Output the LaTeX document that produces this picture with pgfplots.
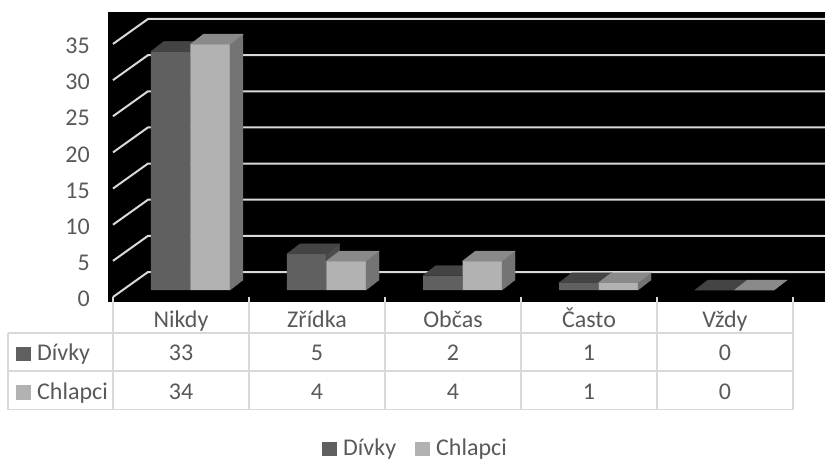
\documentclass[border=0pt]{standalone}
\usepackage{pgfplots}
\usepackage{pgfplotstable}
\pgfplotsset{compat=1.18}
\usepackage{fontspec}
\setmainfont{Carlito}

\definecolor{txt}{HTML}{595959}
\definecolor{gridc}{HTML}{D9D9D9}
\definecolor{dvfront}{HTML}{606060}
\definecolor{dvtop}{HTML}{444444}
\definecolor{dvside}{HTML}{4C4C4C}
\definecolor{chfront}{HTML}{B2B2B2}
\definecolor{chtop}{HTML}{8A8A8A}
\definecolor{chside}{HTML}{747474}

% answers: how often, girls (dv) and boys (ch)
\pgfplotstableread{
x cat dv ch
0 Nikdy 33 34
1 Zřídka 5 4
2 Občas 2 4
3 Často 1 1
4 Vždy 0 0
}\answers

% bar geometry in bp: half width, depth offset, y unit
\def\hw{19.75}
\def\dx{13}
\def\dy{10}
\def\yu{7.23}

\pgfplotsset{
  % top and right side of a 3D bar, drawn at the data point (bar top)
  barfaces/.style n args={4}{%
    forget plot, scatter, only marks, mark=*, mark size=0pt,
    mark options={draw=none,fill=none},
    visualization depends on={\thisrow{#2} \as \bv},
    scatter/@pre marker code/.code={%
      \pgfmathsetmacro\h{\bv*\yu}%
      \pgfmathsetmacro\xl{#1-\hw}%
      \pgfmathsetmacro\xr{#1+\hw}%
      \fill[#4] (\xr bp,0bp) -- (\xr bp,-\h bp) -- (\xr bp+\dx bp,-\h bp+\dy bp) -- (\xr bp+\dx bp,\dy bp) -- cycle;
      \fill[#3] (\xl bp,0bp) -- (\xr bp,0bp) -- (\xr bp+\dx bp,\dy bp) -- (\xl bp+\dx bp,\dy bp) -- cycle;
    },
    scatter/@post marker code/.code={},
  },
  % square legend key with a small gap before the text
  sqlegend/.style={legend image code/.code={%
    \path (-2bp,0bp) (19bp,0bp);
    \fill[#1] (0bp,-7bp) rectangle (15bp,7bp);}},
}

\begin{document}
\fontsize{24bp}{29bp}\selectfont
\begin{tikzpicture}
\useasboundingbox (0,0) rectangle (825bp,-461bp);
\begin{axis}[
  at={(108bp,-302bp)}, anchor=south west,
  x=136bp, y=7.23bp,
  xmin=-0.6066, xmax=4.6654, ymin=-1.66, ymax=38.45,
  enlargelimits=false,
  axis background/.style={fill=black},
  axis line style={draw=none},
  tick style={draw=none},
  xtick=\empty,
  ytick={0,5,...,35},
  yticklabel style={anchor=east, inner sep=0pt, xshift=-18bp, yshift=-9bp,
    text=txt, font=\fontsize{24bp}{29bp}\selectfont},
  /pgf/number format/assume math mode=true,
  clip marker paths=true,
  legend columns=2,
  legend style={draw=none, fill=none, at={(0.4275,-0.5065)}, anchor=center,
    nodes={inner ysep=0pt, inner xsep=2bp, text=txt},
    /tikz/every even column/.append style={column sep=15bp}},
]
% walls: diagonal side lines and horizontal back-wall gridlines
\pgfplotsinvokeforeach{0,5,10,15,20,25,30,35}{
  \draw[gridc, line width=2bp]
    ([xshift=-9.5bp,yshift=-7bp]axis cs:-0.5,#1)
    -- ([xshift=25.5bp,yshift=18bp]axis cs:-0.5,#1)
    -- ([yshift=18bp]axis cs:4.6654,#1);
}
\addplot[ybar, bar width=39.5bp, bar shift=-19.75bp, fill=dvfront, draw=none, sqlegend=dvfront]
  table[x=x, y=dv]{\answers};
\addlegendentry{Dívky}
\addplot[barfaces={-19.75}{dv}{dvtop}{dvside}] table[x=x, y=dv]{\answers};
\addplot[ybar, bar width=39.5bp, bar shift=19.75bp, fill=chfront, draw=none, sqlegend=chfront]
  table[x=x, y=ch]{\answers};
\addlegendentry{Chlapci}
\addplot[barfaces={19.75}{ch}{chtop}{chside}] table[x=x, y=ch]{\answers};
\end{axis}

% data table below the chart
\begin{scope}[gridc, line width=1.5bp]
  \foreach \k in {0,...,5}
    \draw (113bp+136bp*\k,-297bp) -- (113bp+136bp*\k,-409.5bp);
  \draw (8bp,-333bp) -- (8bp,-409.5bp);
  \foreach \yy in {333,371,409.5}
    \draw (8bp,-\yy bp) -- (793bp,-\yy bp);
\end{scope}
\foreach \i in {0,...,4}{
  \pgfplotstablegetelem{\i}{cat}\of\answers
  \node[anchor=base, inner sep=0pt, text=txt] at (181bp+136bp*\i,-327.7bp) {\pgfplotsretval};
  \pgfplotstablegetelem{\i}{dv}\of\answers
  \node[anchor=base, inner sep=0pt, text=txt] at (181bp+136bp*\i,-360bp) {\pgfplotsretval};
  \pgfplotstablegetelem{\i}{ch}\of\answers
  \node[anchor=base, inner sep=0pt, text=txt] at (181bp+136bp*\i,-399bp) {\pgfplotsretval};
}
\fill[dvfront] (16bp,-361bp) rectangle (31bp,-347bp);
\node[anchor=base west, inner sep=0pt, text=txt] at (37bp,-360bp) {Dívky};
\fill[chfront] (16bp,-399.5bp) rectangle (31bp,-385bp);
\node[anchor=base west, inner sep=0pt, text=txt] at (37bp,-399bp) {Chlapci};
\end{tikzpicture}
\end{document}
